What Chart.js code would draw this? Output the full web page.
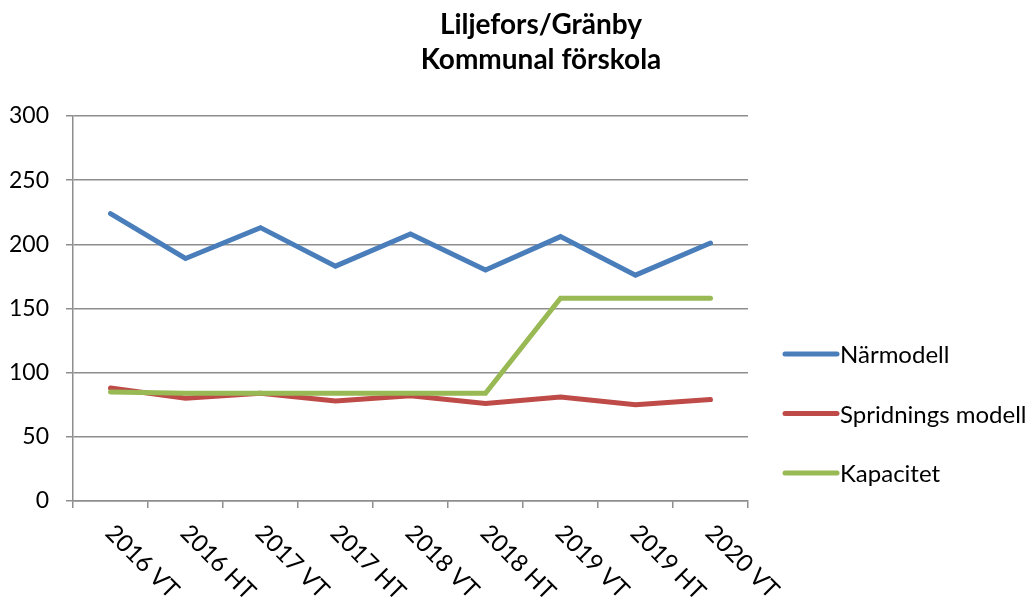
<!DOCTYPE html>
<html><head><meta charset="utf-8">
<script src="https://cdn.jsdelivr.net/npm/chart.js@4"></script>
<style>html,body{margin:0;padding:0;background:#fff}#wrap{width:1034px;height:599px}</style>
</head><body><div id="wrap"><canvas id="c" width="1034" height="599"></canvas></div>
<script>
const titleLines = ['Liljefors/Gränby', 'Kommunal förskola'];
const categories = ['2016 VT','2016 HT','2017 VT','2017 HT','2018 VT','2018 HT','2019 VT','2019 HT','2020 VT'];
const seriesNames = ['Närmodell', 'Spridnings modell', 'Kapacitet'];
const narmodell = [224, 189, 213, 183, 208, 180, 206, 176, 201];
const spridning = [88, 80, 84, 78, 82, 76, 81, 75, 79];
const kapacitet = [85, 84, 84, 84, 84, 84, 158, 158, 158];
const yMin = 0, yMax = 300, yStep = 50;
const seriesColors = ['#4a7ebb', '#be4b48', '#98b954'];

const FONT = 'Lato, "Open Sans", sans-serif';
const gridColor = '#8e8e8e';

const overlay = {
  id: 'overlay',
  afterDraw(chart) {
    const ctx = chart.ctx;
    ctx.save();
    ctx.fillStyle = '#000';
    // title
    ctx.font = 'bold 28px ' + FONT;
    ctx.textAlign = 'center';
    ctx.textBaseline = 'alphabetic';
    ctx.fillText(titleLines[0], 541, 34);
    ctx.fillText(titleLines[1], 541, 69);
    // rotated category labels
    const xs = chart.scales.x;
    ctx.font = '24px ' + FONT;
    ctx.textAlign = 'left';
    ctx.textBaseline = 'middle';
    categories.forEach((lab, i) => {
      const x = xs.getPixelForValue(i);
      ctx.save();
      ctx.translate(x - 1, xs.top + 28);
      ctx.rotate(Math.PI / 4);
      ctx.fillText(lab, 0, 0);
      ctx.restore();
    });
    // legend
    ctx.textBaseline = 'alphabetic';
    ctx.font = '24px ' + FONT;
    chart.data.datasets.forEach((ds, i) => {
      const y = 354 + i * 59.5;
      ctx.strokeStyle = ds.borderColor;
      ctx.lineWidth = 5;
      ctx.lineCap = 'round';
      ctx.beginPath();
      ctx.moveTo(785, y);
      ctx.lineTo(837, y);
      ctx.stroke();
      ctx.fillStyle = '#000';
      ctx.fillText(ds.label, 840, y + 9);
    });
    ctx.restore();
  }
};

const seriesData = [narmodell, spridning, kapacitet];
new Chart(document.getElementById('c'), {
  type: 'line',
  data: {
    labels: categories,
    datasets: seriesNames.map((name, i) => ({
      label: name,
      data: seriesData[i],
      borderColor: seriesColors[i],
      backgroundColor: seriesColors[i],
      borderWidth: 5,
      borderCapStyle: 'round',
      borderJoinStyle: 'miter',
      pointRadius: 0,
      pointHoverRadius: 0,
      tension: 0,
      fill: false,
      order: 2 - i
    }))
  },
  options: {
    responsive: false,
    animation: false,
    devicePixelRatio: 1,
    layout: { padding: { top: 116, right: 286, left: 0, bottom: 0 } },
    plugins: { legend: { display: false }, title: { display: false }, tooltip: { enabled: false } },
    scales: {
      x: {
        type: 'category',
        offset: true,
        grid: { offset: true, drawOnChartArea: false, drawTicks: true, tickLength: 7, color: gridColor, lineWidth: 1.5 },
        border: { color: gridColor, width: 1.5 },
        ticks: { display: false },
        afterFit(s) { s.height = 98; }
      },
      y: {
        min: yMin, max: yMax,
        ticks: { stepSize: yStep, color: '#000', padding: 17, font: { family: FONT, size: 23 } },
        grid: { color: gridColor, lineWidth: 1.5, tickLength: 7 },
        border: { color: gridColor, width: 1.5 },
        afterFit(s) { s.width = 73; }
      }
    }
  },
  plugins: [overlay]
});
</script></body></html>
